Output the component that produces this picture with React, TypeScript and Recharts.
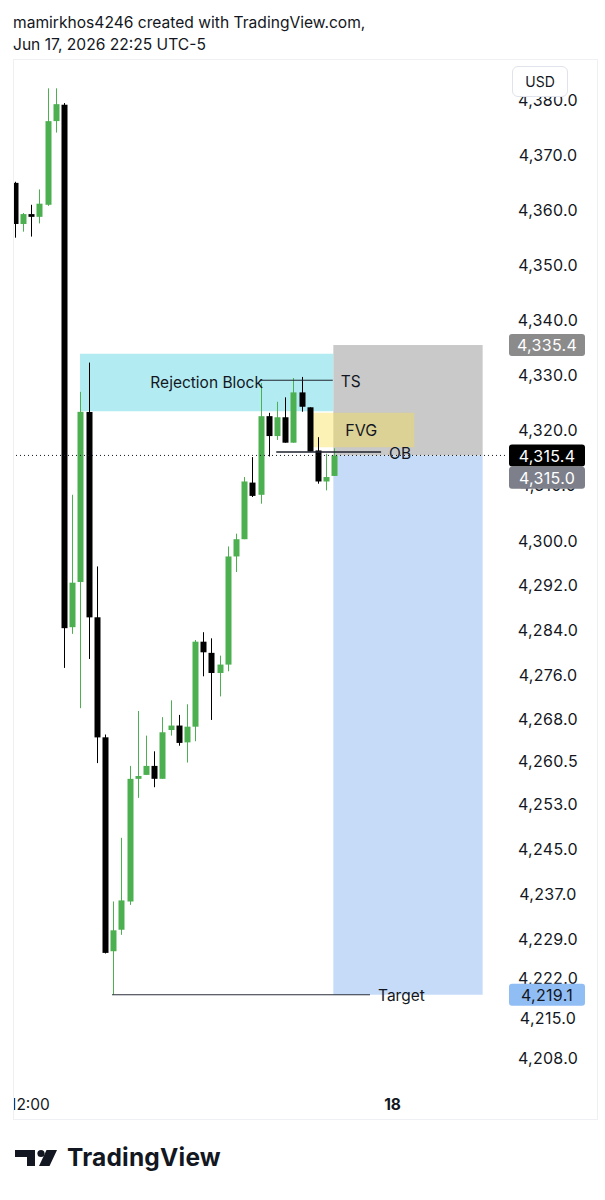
import React from "react";
import { ComposedChart, Bar, XAxis, YAxis, ReferenceArea, ReferenceLine } from "recharts";

// OHLC of each candle, left to right
const opens = [
  4364.9, 4357.4, 4359.2, 4358.7, 4360.9, 4376.2, 4379.2, 4284.5, 4292.7, 4323.3,
  4286.3, 4264.8, 4226.8, 4230.6, 4235.6, 4257.4, 4258.1, 4259.7, 4257.4, 4266.1,
  4266.9, 4263.9, 4266.7, 4281.9, 4279.9, 4276.3, 4277.8, 4297.2, 4300.3, 4310.5,
  4308.3, 4322.5, 4318.9, 4322.3, 4317.7, 4326.8, 4324.1, 4316.3, 4310.7, 4311.7,
];
const highs = [
  4365.1, 4359.4, 4360.9, 4363.7, 4382.2, 4382.2, 4379.5, 4308.3, 4326.9, 4332.2,
  4295.4, 4265.3, 4235.6, 4246.9, 4259.7, 4269.5, 4265.1, 4262.3, 4268.4, 4271.4,
  4268.8, 4270.7, 4282.2, 4283.6, 4282.5, 4279.4, 4299.0, 4301.3, 4311.5, 4315.1,
  4328.5, 4323.1, 4325.1, 4325.9, 4329.4, 4329.6, 4324.1, 4318.7, 4315.7, 4316.7,
];
const lows = [
  4354.9, 4356.0, 4355.1, 4357.5, 4360.7, 4374.1, 4277.2, 4283.3, 4270.0, 4278.8,
  4260.2, 4226.4, 4219.1, 4229.7, 4235.0, 4254.0, 4258.1, 4255.9, 4257.4, 4265.1,
  4263.3, 4260.3, 4264.1, 4275.7, 4267.9, 4272.1, 4276.6, 4294.4, 4300.3, 4307.9,
  4306.7, 4315.2, 4318.2, 4317.7, 4317.7, 4323.3, 4316.1, 4310.3, 4309.1, 4311.7,
];
const closes = [
  4357.4, 4359.2, 4358.7, 4361.1, 4376.2, 4379.3, 4284.4, 4292.5, 4323.3, 4286.3,
  4264.8, 4226.5, 4230.5, 4235.8, 4257.4, 4257.9, 4259.7, 4257.4, 4265.7, 4266.9,
  4263.8, 4266.7, 4281.9, 4280.0, 4276.3, 4277.8, 4297.2, 4300.3, 4310.7, 4308.1,
  4322.5, 4318.9, 4322.3, 4317.7, 4326.8, 4324.2, 4316.1, 4310.7, 4311.5, 4315.4,
];

const priceTicks = [
  4380, 4370, 4360, 4350, 4340, 4330, 4320, 4310, 4300, 4292, 4284, 4276, 4268,
  4260.5, 4253, 4245, 4237, 4229, 4222, 4215, 4208,
];
const markerPrices = [4335.4, 4315.4, 4315.0, 4219.1];
const timeTicks = [1.83, 46.1];
const timeLabels = ["12:00", "18"];

// zones: [bar from, bar to, top price, bottom price]
const rejectionBlock = [7.94, 38.87, 4333.8, 4323.4];
const stopZone = [38.87, 57.1, 4335.4, 4315.4];
const targetZone = [38.87, 57.1, 4315.4, 4219.1];
const fvgZone = [35.78, 48.75, 4323.1, 4316.9];
// lines: [bar from, bar to, price]
const tsLine = [29.9, 38.8, 4329.0];
const obLine = [31.9, 44.7, 4316.0];
const targetLine = [11.85, 43.35, 4219.1];
const lastPrice = 4315.4;

const candles = opens.map((open, i) => ({
  i,
  open,
  high: highs[i],
  low: lows[i],
  close: closes[i],
  range: [lows[i], highs[i]],
}));

const FONT = "Inter, 'Noto Sans', sans-serif";
const INK = "#131722";

const markerStyles: Record<string, { bg: string; fg: string; dy: number }> = {
  "4335.4": { bg: "#8b8b8b", fg: "#ffffff", dy: 0 },
  "4315.4": { bg: "#000000", fg: "#ffffff", dy: 0 },
  "4315": { bg: "#7d808b", fg: "#ffffff", dy: 20 },
  "4219.1": { bg: "#91bdf5", fg: INK, dy: 0 },
};

const fmt = (v: number) =>
  v.toLocaleString("en-US", { minimumFractionDigits: 1, maximumFractionDigits: 1 });

function Candle(props: any) {
  const { x, y, width, height, payload } = props;
  if (x == null || y == null || !payload) return null;
  const top = Math.min(y, y + height);
  const h = Math.abs(height);
  const { open, close, high, low } = payload;
  const k = high - low > 0 ? h / (high - low) : 0;
  const color = close >= open ? "#4caf50" : "#000000";
  const bodyTop = top + (high - Math.max(open, close)) * k;
  const bodyH = Math.max(1.5, Math.abs(open - close) * k);
  const cx = Math.round(x + width / 2) + 0.5;
  return (
    <g>
      <line x1={cx} x2={cx} y1={top} y2={top + h} stroke={color} strokeWidth={1} />
      <rect x={cx - 3} y={bodyTop} width={6} height={bodyH} fill={color} />
    </g>
  );
}

function PriceTick(props: any) {
  const { y, payload } = props;
  const v = payload.value as number;
  const m = markerStyles[String(v)];
  if (m && markerPrices.includes(v)) {
    const cy = y + m.dy;
    return (
      <g>
        <rect x={509} y={cy - 11} width={76} height={22} rx={3} fill={m.bg} />
        <text x={547} y={cy + 0.5} textAnchor="middle" dominantBaseline="central"
          fontFamily={FONT} fontSize={16} letterSpacing={0.3} fill={m.fg}>
          {fmt(v)}
        </text>
      </g>
    );
  }
  return (
    <text x={548} y={y} textAnchor="middle" dominantBaseline="central"
      fontFamily={FONT} fontSize={16} letterSpacing={0.3} fill={INK}>
      {fmt(v)}
    </text>
  );
}

function TimeTick(props: any) {
  const { x, payload } = props;
  const idx = timeTicks.indexOf(payload.value);
  const label = timeLabels[idx] ?? "";
  return (
    <g>
      <defs>
        <clipPath id="timeClip">
          <rect x={13.5} y={1085} width={590} height={35} />
        </clipPath>
      </defs>
      <text x={x} y={1104} textAnchor="middle" dominantBaseline="central" clipPath="url(#timeClip)"
        fontFamily={FONT} fontSize={15.5} fontWeight={label === "18" ? 700 : 400} fill={INK}>
        {label}
      </text>
    </g>
  );
}

const lineLabel = (text: string) => (p: any) => {
  const vb = p.viewBox || {};
  return (
    <text x={vb.x + vb.width + 8} y={vb.y + 1} dominantBaseline="central"
      fontFamily={FONT} fontSize={15.5} fill={INK}>
      {text}
    </text>
  );
};

export default function App() {
  return (
    <div style={{ position: "absolute", left: 0, top: 0, width: 605, height: 1200, background: "#fff", fontFamily: FONT, color: INK }}>
      <div style={{ position: "absolute", left: 13, top: 12, fontSize: 15.6, lineHeight: "22px" }}>
        <div>mamirkhos4246 created with TradingView.com,</div>
        <div>Jun 17, 2026 22:25 UTC-5</div>
      </div>

      <div style={{ position: "absolute", left: 0, top: 0 }}>
        <ComposedChart width={605} height={1120} data={candles}
          margin={{ top: 60, right: 0, bottom: 0, left: 13 }}>
          <XAxis dataKey="i" type="number" domain={[-0.244, 59.83]} allowDataOverflow
            ticks={timeTicks} interval={0} tick={<TimeTick />} axisLine={false} tickLine={false} height={35} />
          <YAxis orientation="right" type="number" scale="log" domain={[4203.2, 4387.4]} allowDataOverflow
            ticks={[...priceTicks, ...markerPrices]} interval={0} tick={<PriceTick />}
            axisLine={false} tickLine={false} width={100} />

          <ReferenceArea x1={rejectionBlock[0]} x2={rejectionBlock[1]} y1={rejectionBlock[3]} y2={rejectionBlock[2]}
            fill="#b2ebf2" fillOpacity={1} stroke="none"
            label={{ value: "Rejection Block", position: "center", fill: INK, fontSize: 15.5, fontFamily: FONT }} />
          <ReferenceArea x1={stopZone[0]} x2={stopZone[1]} y1={stopZone[3]} y2={stopZone[2]}
            fill="#c9c9c9" fillOpacity={1} stroke="none" />
          <ReferenceArea x1={targetZone[0]} x2={targetZone[1]} y1={targetZone[3]} y2={targetZone[2]}
            fill="#c6dbf8" fillOpacity={1} stroke="none" />
          <ReferenceArea x1={fvgZone[0]} x2={fvgZone[1]} y1={fvgZone[3]} y2={fvgZone[2]}
            fill="#f7df52" fillOpacity={0.42} stroke="none"
            label={{ value: "FVG", position: "center", fill: INK, fontSize: 16, fontFamily: FONT }} />

          <Bar dataKey="range" barSize={6} shape={<Candle />} isAnimationActive={false} />

          <ReferenceLine y={lastPrice} stroke="#131722" strokeWidth={1} strokeDasharray="1 3" />
          <ReferenceLine segment={[{ x: tsLine[0], y: tsLine[2] }, { x: tsLine[1], y: tsLine[2] }]}
            stroke="#1e222d" strokeWidth={1} label={lineLabel("TS")} />
          <ReferenceLine segment={[{ x: obLine[0], y: obLine[2] }, { x: obLine[1], y: obLine[2] }]}
            stroke="#1e222d" strokeWidth={1.5} label={lineLabel("OB")} />
          <ReferenceLine segment={[{ x: targetLine[0], y: targetLine[2] }, { x: targetLine[1], y: targetLine[2] }]}
            stroke="#2a2e39" strokeWidth={1.2} label={lineLabel("Target")} />
        </ComposedChart>
      </div>

      {/* pane frame */}
      <div style={{ position: "absolute", left: 13, top: 59, width: 585, height: 1061, border: "1px solid #eef0f4", pointerEvents: "none", boxSizing: "border-box" }} />

      <div style={{ position: "absolute", left: 512, top: 66, width: 56, height: 31, boxSizing: "border-box", border: "1px solid #e0e3eb", borderRadius: 6, background: "#fff", fontSize: 14, lineHeight: "29px", textAlign: "center" }}>
        USD
      </div>

      <svg style={{ position: "absolute", left: 0, top: 1140 }} width={240} height={45}>
        <path d="M15 10 H35 V26 H27 V17 H15 Z" fill={INK} />
        <circle cx={41} cy={13.5} r={3.6} fill={INK} />
        <path d="M46.5 10 H57 L49.5 26 H39 Z" fill={INK} />
        <text x={67} y={26} fontFamily={FONT} fontSize={24.5} fontWeight={700} letterSpacing={0.2} fill={INK}>TradingView</text>
      </svg>
    </div>
  );
}
